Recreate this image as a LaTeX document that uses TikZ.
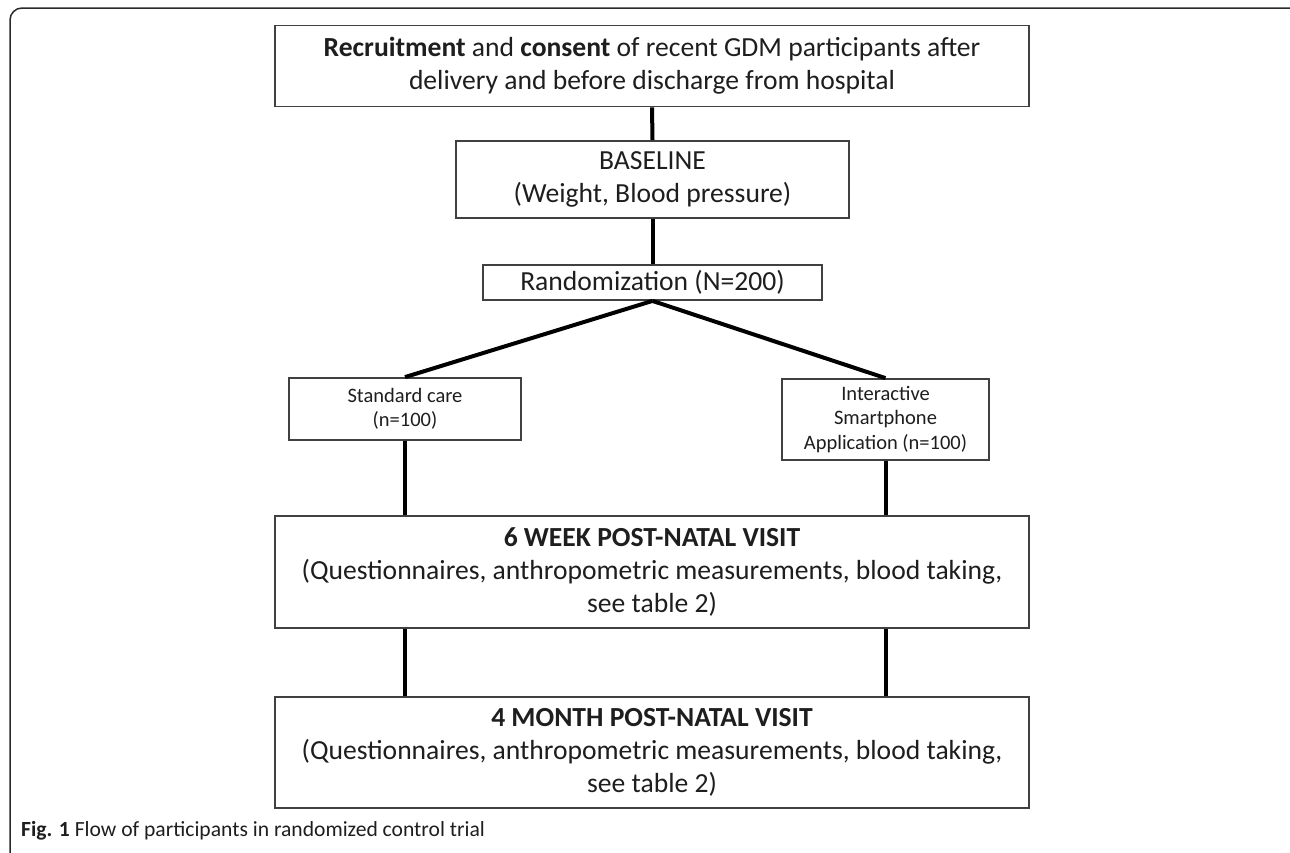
\documentclass[tikz,border=0pt]{standalone}
\usepackage{fontspec}
\setmainfont{Carlito}
\definecolor{bx}{HTML}{404040}
\definecolor{txt}{HTML}{1E1E1E}
\definecolor{frame}{HTML}{2A2A2A}
\begin{document}
\begin{tikzpicture}[x=1pt,y=-1pt,
  box/.style={draw=bx, line width=1.8pt, fill=white, align=center, inner sep=0pt, text=txt},
  big/.style={font=\fontsize{27.6}{33}\selectfont},
  small/.style={font=\fontsize{20.5}{24.5}\selectfont},
  conn/.style={line width=4pt, draw=black}]
\useasboundingbox (0,0) rectangle (1290,852);
\begin{scope}
  \clip (0,0) rectangle (1290,852);
  \draw[line width=1.5pt, draw=frame, rounded corners=12pt] (10,8) rectangle (1302,864);
\end{scope}
\node[box, big, minimum width=754pt, minimum height=81pt] (top) at (652,66)
  {\textbf{Recruitment} and \textbf{consent} of recent GDM participants after\\ delivery and before discharge from hospital};
\node[box, big, minimum width=393pt, minimum height=77pt] (base) at (652.5,179.5)
  {BASELINE\\(Weight, Blood pressure)};
\node[box, big, minimum width=339pt, minimum height=35pt] (rand) at (652.5,282.5)
  {Randomization (N=200)};
\node[box, small, minimum width=232pt, minimum height=62pt] (std) at (405,409)
  {Standard care\\(n=100)};
\node[box, small, minimum width=207pt, minimum height=81pt] (app) at (885.5,419.5)
  {Interactive\\Smartphone\\Application (n=100)};
\node[box, big, minimum width=754pt, minimum height=112pt] (six) at (652,572)
  {\textbf{6 WEEK POST-NATAL VISIT}\\(Questionnaires, anthropometric measurements, blood taking,\\see table 2)};
\node[box, big, minimum width=754pt, minimum height=111pt] (four) at (652,752.5)
  {\textbf{4 MONTH POST-NATAL VISIT}\\(Questionnaires, anthropometric measurements, blood taking,\\see table 2)};
\draw[conn] (top.south) -- (base.north);
\draw[conn] (base.south) -- (rand.north);
\draw[conn] (rand.south) -- (std.north);
\draw[conn] (rand.south) -- (app.north);
\draw[conn] (std.south) -- (std.south |- six.north);
\draw[conn] (app.south) -- (app.south |- six.north);
\draw[conn] (std.south |- six.south) -- (std.south |- four.north);
\draw[conn] (app.south |- six.south) -- (app.south |- four.north);
\node[anchor=base west, inner sep=0pt, text=txt, font=\fontsize{21.6}{24}\selectfont] (cap) at (21,836)
  {\textbf{Fig. 1} Flow of participants in randomized control trial};
\end{tikzpicture}
\end{document}
